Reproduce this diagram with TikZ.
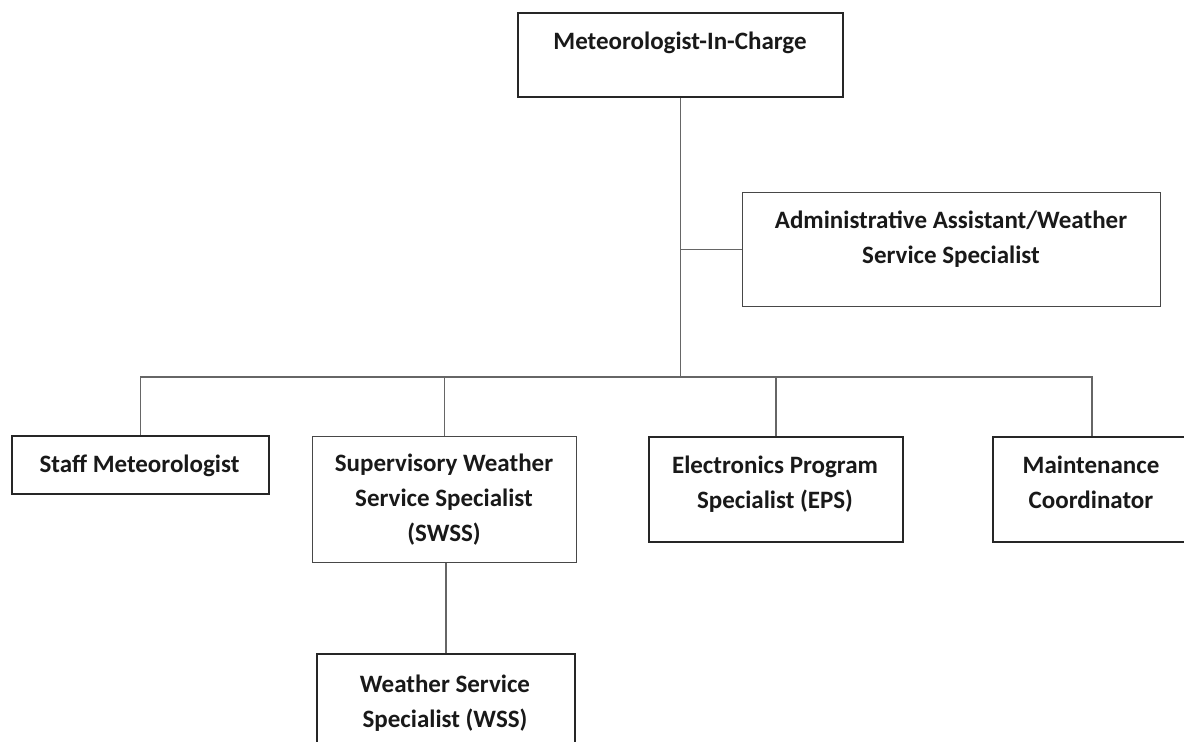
\documentclass[tikz,border=0pt]{standalone}
\usepackage{fontspec}
\setmainfont{Carlito}
\begin{document}
\begin{tikzpicture}[x=0.5pt,y=-0.5pt,
	box/.style={draw=black!85,line width=1pt,inner sep=0pt,anchor=north west},
	thinbox/.style={box,draw=black!72,line width=0.65pt},
	txt/.style={align=center,inner sep=0pt,text=black!90,font=\bfseries\fontsize{12.5}{17.5}\selectfont},
	link/.style={draw=black!60,line width=0.7pt}]
	\useasboundingbox (0,0) rectangle (1184,742);
	\fill [white] (0,0) rectangle (1184,742);

	% boxes
	\node [box, minimum width=162.5pt, minimum height=42pt] (mic) at (517,12) {};
	\node [thinbox, minimum width=209pt, minimum height=57pt] (admin) at (742,192) {};
	\node [box, minimum width=128.5pt, minimum height=29pt] (staff) at (11,435) {};
	\node [thinbox, minimum width=132pt, minimum height=63pt] (swss) at (312,436) {};
	\node [box, minimum width=127pt, minimum height=52.5pt] (eps) at (648,436) {};
	\node [box, minimum width=99pt, minimum height=52.5pt] (maint) at (992,436) {};
	\node [box, minimum width=129pt, minimum height=60pt] (wss) at (316,653) {};

	% texts
	\node [txt] (mic-t) at (680,43) {Meteorologist-In-Charge};
	\node [txt] (admin-t) at (951,239) {Administrative Assistant/Weather\\Service Specialist};
	\node [txt] (staff-t) at (139.5,466) {Staff Meteorologist};
	\node [txt] (swss-t) at (444,500) {Supervisory Weather\\Service Specialist\\(SWSS)};
	\node [txt] (eps-t) at (775,484) {Electronics Program\\Specialist (EPS)};
	\node [txt] (maint-t) at (1091,482) {Maintenance\\Coordinator};
	\node [txt] (wss-t) at (445,703) {Weather Service\\Specialist (WSS)};

	% lines
	\coordinate (bus) at (680,377);
	\draw [link] (mic.south) -- (mic.south |- bus);
	\draw [link] (admin.west) -- (admin.west -| mic.south);
	\draw [link] (staff.north) |- (bus) -| (maint.north);
	\draw [link] (swss.north) -- (swss.north |- bus);
	\draw [link] (eps.north) -- (eps.north |- bus);
	\draw [link] (wss.north) -- (wss.north |- swss.south);
\end{tikzpicture}
\end{document}
